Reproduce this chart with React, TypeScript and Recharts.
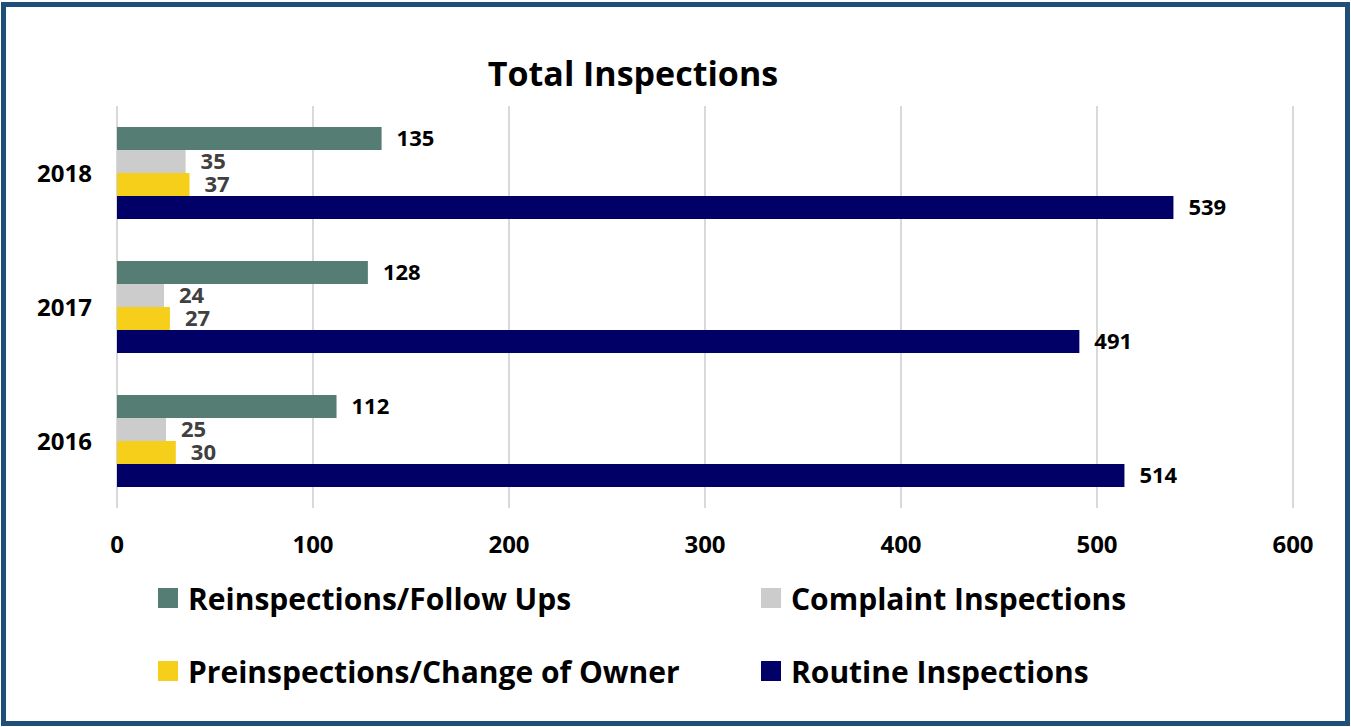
import { BarChart, Bar, XAxis, YAxis, CartesianGrid, LabelList } from "recharts";

const years = ["2018", "2017", "2016"];
const reinspections = [135, 128, 112];
const complaints = [35, 24, 25];
const preinspections = [37, 27, 30];
const routine = [539, 491, 514];
const xTicks = [0, 100, 200, 300, 400, 500, 600];

const series = [
  { key: "reinspections", name: "Reinspections/Follow Ups", color: "#567d73", label: "#000000" },
  { key: "complaints", name: "Complaint Inspections", color: "#cccccc", label: "#404040" },
  { key: "preinspections", name: "Preinspections/Change of Owner", color: "#f6cf1b", label: "#404040" },
  { key: "routine", name: "Routine Inspections", color: "#000066", label: "#000000" },
];

const data = years.map((year, i) => ({
  year,
  reinspections: reinspections[i],
  complaints: complaints[i],
  preinspections: preinspections[i],
  routine: routine[i],
}));

const font = "'Open Sans', 'Noto Sans', sans-serif";

// legend slots: two columns, two rows
const legendPos = [
  { left: 158, top: 589 },
  { left: 761, top: 589 },
  { left: 158, top: 662 },
  { left: 761, top: 662 },
];

export default function App() {
  return (
    <div style={{ position: "absolute", left: 0, top: 0, width: 1351, height: 727, background: "#fff", fontFamily: font }}>
      <div
        style={{
          position: "absolute",
          left: 1,
          top: 2,
          width: 1349,
          height: 724,
          boxSizing: "border-box",
          border: "5px solid #1f4e79",
        }}
      />
      <div
        style={{
          position: "absolute",
          left: 0,
          width: 1266,
          top: 51,
          textAlign: "center",
          fontSize: 34,
          fontWeight: 700,
          color: "#000",
          lineHeight: "44px",
        }}
      >
        Total Inspections
      </div>
      <div style={{ position: "absolute", left: 0, top: 0 }}>
        <BarChart
          width={1351}
          height={727}
          data={data}
          layout="vertical"
          margin={{ top: 106, right: 58, bottom: 159, left: 17 }}
          barGap={0}
          barSize={23}
        >
          <CartesianGrid horizontal={false} stroke="#d9d9d9" strokeWidth={2} />
          <XAxis
            type="number"
            domain={[0, 600]}
            ticks={xTicks}
            axisLine={false}
            tickLine={false}
            tickSize={0}
            tickMargin={28}
            height={60}
            tick={{ fill: "#000", fontSize: 24, fontWeight: 700, fontFamily: font }}
          />
          <YAxis
            type="category"
            dataKey="year"
            width={100}
            axisLine={false}
            tickLine={false}
            tickSize={0}
            tickMargin={25}
            tick={{ fill: "#000", fontSize: 24, fontWeight: 700, fontFamily: font }}
          />
          {series.map((s) => (
            <Bar key={s.key} dataKey={s.key} name={s.name} fill={s.color} isAnimationActive={false}>
              <LabelList
                dataKey={s.key}
                position="right"
                offset={15}
                fill={s.label}
                style={{ fontSize: 22, fontWeight: 700, fontFamily: font }}
              />
            </Bar>
          ))}
        </BarChart>
      </div>
      {series.map((s, i) => (
        <div
          key={s.key}
          style={{
            position: "absolute",
            left: legendPos[i].left,
            top: legendPos[i].top - 11,
            height: 40,
            display: "flex",
            alignItems: "center",
            fontSize: 30,
            fontWeight: 700,
            color: "#000",
            whiteSpace: "nowrap",
          }}
        >
          <span style={{ width: 20, height: 20, background: s.color, marginRight: 10, display: "inline-block" }} />
          {s.name}
        </div>
      ))}
    </div>
  );
}
